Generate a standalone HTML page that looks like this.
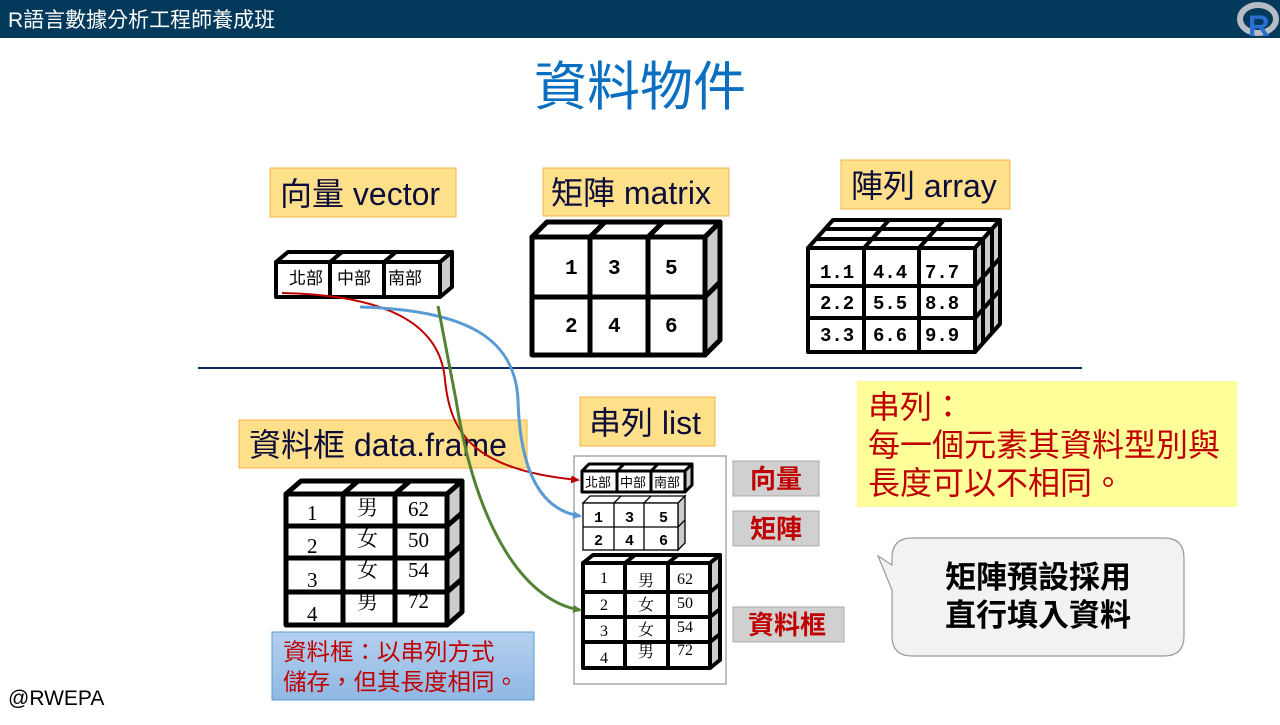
<!DOCTYPE html>
<html><head><meta charset="utf-8"><style>
body{margin:0;width:1280px;height:720px;overflow:hidden;background:#fff;font-family:"Liberation Sans","Noto Sans CJK TC",sans-serif}
</style></head><body>
<svg width="1280" height="720" xmlns="http://www.w3.org/2000/svg" font-family="Liberation Sans, Noto Sans CJK TC, sans-serif">
<rect x="0" y="0" width="1280" height="38" fill="#033a5c"/>
<text x="8" y="27" fill="#fff" font-size="21">R語言數據分析工程師養成班</text>
<ellipse cx="1258" cy="19" rx="18" ry="14" fill="none" stroke="#b8bcc4" stroke-width="6"/>
<text x="1248" y="36" font-size="30" font-weight="bold" fill="#2a6fd0">R</text>
<text x="640" y="105" text-anchor="middle" font-size="53" fill="#0a6fc0">資料物件</text>

<!-- labels -->
<g font-size="32" fill="#0d0d3a">
<rect x="270" y="168" width="186" height="49" fill="#ffe08a" stroke="#f0b44a"/>
<text x="280" y="205">向量 vector</text>
<rect x="543" y="168" width="186" height="48" fill="#ffe08a" stroke="#f0b44a"/>
<text x="551" y="204">矩陣 matrix</text>
<rect x="841" y="160" width="169" height="49" fill="#ffe08a" stroke="#f0b44a"/>
<text x="851" y="197">陣列 array</text>
<rect x="239" y="420" width="288" height="48" fill="#ffe08a" stroke="#f0b44a"/>
<text x="249" y="456">資料框 data.frame</text>
<rect x="580" y="397" width="135" height="49" fill="#ffe08a" stroke="#f0b44a"/>
<text x="589" y="434">串列 list</text>
</g>

<line x1="198" y1="368" x2="1082" y2="368" stroke="#0e2a5e" stroke-width="2"/>

<!-- vector -->
<g stroke="#000" stroke-width="4" stroke-linejoin="round">
<polygon points="276,262 288,252 452,252 440,262" fill="#fff"/>
<line x1="330" y1="262" x2="342" y2="252"/><line x1="384" y1="262" x2="396" y2="252"/>
<polygon points="440,262 452,252 452,287 440,297" fill="#ccc"/>
<rect x="276" y="262" width="164" height="35" fill="#fff"/>
<line x1="330" y1="262" x2="330" y2="297"/><line x1="384" y1="262" x2="384" y2="297"/>
</g>
<g font-size="17" fill="#000"><text x="289" y="284">北部</text><text x="337" y="284">中部</text><text x="388" y="284">南部</text></g>

<!-- matrix -->
<g stroke="#000" stroke-width="5" stroke-linejoin="round">
<polygon points="532,237 547,222 720,222 705,237" fill="#fff"/>
<line x1="590" y1="237" x2="605" y2="222"/><line x1="648" y1="237" x2="663" y2="222"/>
<polygon points="705,237 720,222 720,340 705,355" fill="#ccc"/>
<line x1="705" y1="297" x2="720" y2="282"/>
<rect x="532" y="237" width="173" height="118" fill="#fff"/>
<line x1="590" y1="237" x2="590" y2="355"/><line x1="648" y1="237" x2="648" y2="355"/>
<line x1="532" y1="297" x2="705" y2="297"/>
</g>
<g font-family="Liberation Mono, monospace" font-weight="bold" font-size="21"><text x="565" y="274">1</text><text x="608" y="274">3</text><text x="665" y="274">5</text><text x="565" y="332">2</text><text x="608" y="332">4</text><text x="665" y="332">6</text></g>

<!-- array -->
<g stroke="#000" stroke-width="4" stroke-linejoin="round">
<polygon points="808,248 833,220 1000,220 975,248" fill="#fff"/>
<line x1="816" y1="239" x2="983" y2="239"/><line x1="825" y1="229" x2="992" y2="229"/>
<line x1="864" y1="248" x2="889" y2="220"/><line x1="919" y1="248" x2="944" y2="220"/>
<polygon points="975,248 1000,220 1000,324 975,352" fill="#ccc"/>
<line x1="983" y1="239" x2="983" y2="343"/><line x1="992" y1="229" x2="992" y2="333"/>
<line x1="975" y1="286" x2="1000" y2="258"/><line x1="975" y1="318" x2="1000" y2="290"/>
<rect x="808" y="248" width="167" height="104" fill="#fff"/>
<line x1="864" y1="248" x2="864" y2="352"/><line x1="919" y1="248" x2="919" y2="352"/>
<line x1="808" y1="286" x2="975" y2="286"/><line x1="808" y1="318" x2="975" y2="318"/>
</g>
<g font-family="Liberation Mono, monospace" font-weight="bold" font-size="19"><text x="820" y="278">1.1</text><text x="873" y="278">4.4</text><text x="925" y="278">7.7</text><text x="820" y="309">2.2</text><text x="873" y="309">5.5</text><text x="925" y="309">8.8</text><text x="820" y="341">3.3</text><text x="873" y="341">6.6</text><text x="925" y="341">9.9</text></g>

<!-- data frame left -->
<g stroke="#000" stroke-width="5" stroke-linejoin="round">
<polygon points="286,494 301,481 462,481 447,494" fill="#fff"/>
<line x1="343" y1="494" x2="358" y2="481"/><line x1="395" y1="494" x2="410" y2="481"/>
<polygon points="447,494 462,481 462,612 447,625" fill="#ccc"/>
<line x1="447" y1="526" x2="462" y2="513"/><line x1="447" y1="558" x2="462" y2="545"/><line x1="447" y1="592" x2="462" y2="579"/>
<rect x="286" y="494" width="161" height="131" fill="#fff"/>
<line x1="343" y1="494" x2="343" y2="625"/><line x1="395" y1="494" x2="395" y2="625"/>
<line x1="286" y1="526" x2="447" y2="526"/><line x1="286" y1="558" x2="447" y2="558"/><line x1="286" y1="592" x2="447" y2="592"/>
</g>
<g font-family="Liberation Serif, Noto Serif CJK SC, serif" font-size="21" fill="#000">
<text x="307" y="520">1</text><text x="307" y="553">2</text><text x="307" y="587">3</text><text x="307" y="621">4</text>
<text x="357" y="515">男</text><text x="357" y="546">女</text><text x="357" y="577">女</text><text x="357" y="609">男</text>
<text x="408" y="516">62</text><text x="408" y="547">50</text><text x="408" y="577">54</text><text x="408" y="608">72</text>
</g>

<!-- list box -->
<rect x="574" y="456" width="152" height="228" fill="#fff" stroke="#aaa" stroke-width="1.5"/>
<g stroke="#000" stroke-width="3" stroke-linejoin="round">
<polygon points="582,471 589,464 692,464 685,471" fill="#fff"/>
<line x1="617" y1="471" x2="624" y2="464"/><line x1="651" y1="471" x2="658" y2="464"/>
<polygon points="685,471 692,464 692,485 685,492" fill="#ccc"/>
<rect x="582" y="471" width="103" height="21" fill="#fff"/>
<line x1="617" y1="471" x2="617" y2="492"/><line x1="651" y1="471" x2="651" y2="492"/>
</g>
<g font-size="13"><text x="585" y="487">北部</text><text x="620" y="487">中部</text><text x="654" y="487">南部</text></g>
<g stroke="#000" stroke-width="1.3">
<polygon points="583,503 590,496 685,496 678,503" fill="#fff"/>
<line x1="614" y1="503" x2="621" y2="496"/><line x1="644" y1="503" x2="651" y2="496"/>
<polygon points="678,503 685,496 685,543 678,550" fill="#ccc"/>
<line x1="678" y1="527" x2="685" y2="520"/>
<rect x="583" y="503" width="95" height="47" fill="#fff"/>
<line x1="614" y1="503" x2="614" y2="550"/><line x1="644" y1="503" x2="644" y2="550"/><line x1="583" y1="527" x2="678" y2="527"/>
</g>
<g font-family="Liberation Mono, monospace" font-weight="bold" font-size="15"><text x="594" y="522">1</text><text x="625" y="522">3</text><text x="659" y="522">5</text><text x="594" y="545">2</text><text x="625" y="545">4</text><text x="659" y="545">6</text></g>
<g stroke="#000" stroke-width="4" stroke-linejoin="round">
<polygon points="583,563 593,555 720,555 710,563" fill="#fff"/>
<line x1="625" y1="563" x2="635" y2="555"/><line x1="668" y1="563" x2="678" y2="555"/>
<polygon points="710,563 720,555 720,660 710,668" fill="#ccc"/>
<line x1="710" y1="592" x2="720" y2="584"/><line x1="710" y1="617" x2="720" y2="609"/><line x1="710" y1="642" x2="720" y2="634"/>
<rect x="583" y="563" width="127" height="105" fill="#fff"/>
<line x1="625" y1="563" x2="625" y2="668"/><line x1="668" y1="563" x2="668" y2="668"/>
<line x1="583" y1="592" x2="710" y2="592"/><line x1="583" y1="617" x2="710" y2="617"/><line x1="583" y1="642" x2="710" y2="642"/>
</g>
<g font-family="Liberation Serif, Noto Serif CJK SC, serif" font-size="16" fill="#000">
<text x="600" y="583">1</text><text x="600" y="610">2</text><text x="600" y="636">3</text><text x="600" y="663">4</text>
<text x="638" y="586">男</text><text x="638" y="610">女</text><text x="638" y="635">女</text><text x="638" y="657">男</text>
<text x="677" y="584">62</text><text x="677" y="608">50</text><text x="677" y="632">54</text><text x="677" y="655">72</text>
</g>

<!-- connectors -->
<defs>
<marker id="ar" markerUnits="userSpaceOnUse" markerWidth="9" markerHeight="8" refX="7" refY="4" orient="auto"><path d="M0,0 L9,4 L0,8 z" fill="#c00000"/></marker>
<marker id="ab" markerUnits="userSpaceOnUse" markerWidth="9" markerHeight="8" refX="7" refY="4" orient="auto"><path d="M0,0 L9,4 L0,8 z" fill="#5b9bd5"/></marker>
<marker id="ag" markerUnits="userSpaceOnUse" markerWidth="9" markerHeight="8" refX="7" refY="4" orient="auto"><path d="M0,0 L9,4 L0,8 z" fill="#548235"/></marker>
</defs>
<path d="M282,293 C380,295 440,320 445,380 C450,430 470,470 578,480" fill="none" stroke="#c00000" stroke-width="2" marker-end="url(#ar)"/>
<path d="M360,307 C470,310 515,340 518,400 C520,470 540,510 580,516" fill="none" stroke="#5b9bd5" stroke-width="3" marker-end="url(#ab)"/>
<path d="M438,306 L456,400 C475,520 520,600 580,610" fill="none" stroke="#548235" stroke-width="3" marker-end="url(#ag)"/>

<!-- gray labels -->
<g font-size="26" fill="#c00000" font-weight="bold">
<rect x="733" y="461" width="86" height="35" fill="#d0d0d0" stroke="#aaa"/><text x="750" y="488">向量</text>
<rect x="733" y="511" width="86" height="35" fill="#d0d0d0" stroke="#aaa"/><text x="750" y="538">矩陣</text>
<rect x="733" y="607" width="111" height="35" fill="#d0d0d0" stroke="#aaa"/><text x="748" y="634">資料框</text>
</g>

<!-- yellow box -->
<rect x="857" y="381" width="380" height="126" fill="#ffff99"/>
<g font-size="32" fill="#c00000"><text x="868" y="418">串列：</text><text x="868" y="456">每一個元素其資料型別與</text><text x="868" y="494">長度可以不相同。</text></g>

<!-- callout -->
<path d="M912,538 L1164,538 Q1184,538 1184,558 L1184,636 Q1184,656 1164,656 L912,656 Q892,656 892,636 L892,590 L878,556 L892,565 L892,558 Q892,538 912,538 z" fill="#f2f2f2" stroke="#999" stroke-width="1.2"/>
<g font-size="31" font-weight="bold" fill="#000" text-anchor="middle"><text x="1038" y="588">矩陣預設採用</text><text x="1038" y="626">直行填入資料</text></g>

<!-- blue box -->
<defs><linearGradient id="bg" x1="0" y1="0" x2="0" y2="1"><stop offset="0" stop-color="#b4d0ee"/><stop offset="1" stop-color="#8fb8e4"/></linearGradient></defs>
<rect x="272" y="632" width="262" height="68" fill="url(#bg)" stroke="#5b9bd5"/>
<g font-size="23.5" fill="#c00000"><text x="283" y="660">資料框：以串列方式</text><text x="283" y="690">儲存，但其長度相同。</text></g>

<text x="8" y="705" font-size="21" fill="#000">@RWEPA</text>
</svg>
</body></html>
